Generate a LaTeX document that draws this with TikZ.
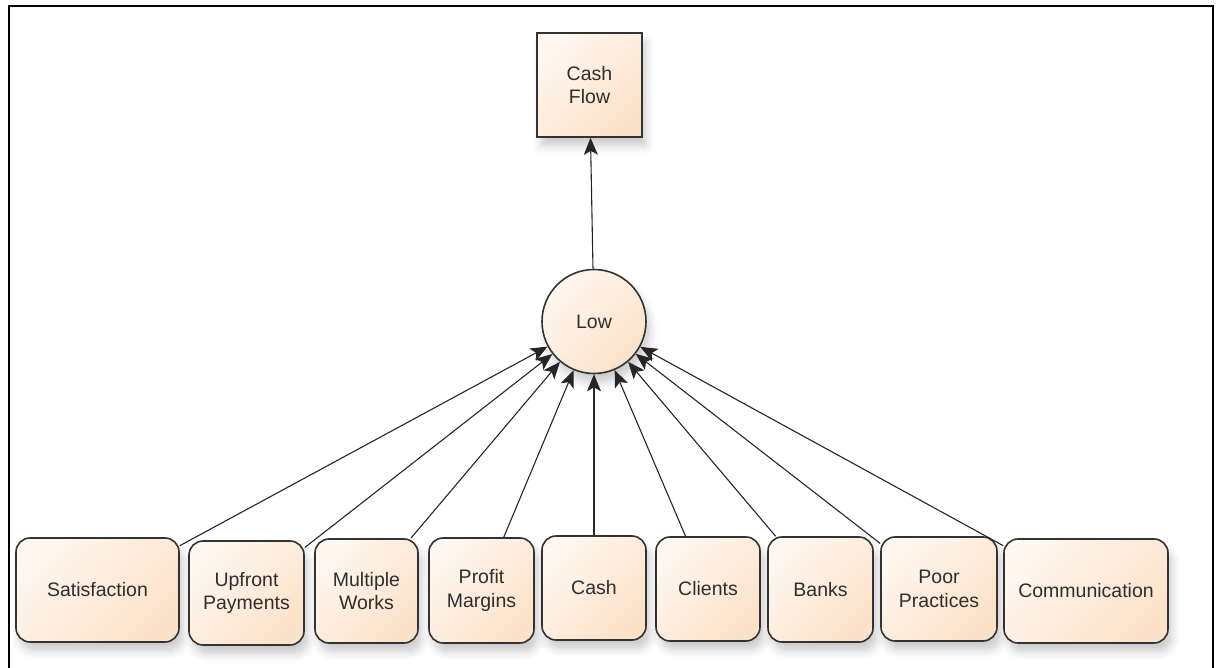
\documentclass[tikz,border=0pt]{standalone}
\usepackage{fontspec}
\setmainfont{Liberation Sans}
\usetikzlibrary{arrows.meta,shadows.blur}

\definecolor{fillA}{HTML}{FFF7F0}
\definecolor{fillB}{HTML}{FCE2C9}
\definecolor{edge}{HTML}{333333}
\definecolor{ink}{HTML}{2E2E2E}

\tikzset{
  base/.style={draw=edge, line width=1.6pt, top color=fillA, bottom color=fillB,
    shading angle=45, text=ink, align=center, inner sep=0pt,
    font=\fontsize{19.5}{23.5}\selectfont,
    blur shadow={shadow xshift=4pt, shadow yshift=-9pt, shadow blur radius=8pt,
      shadow opacity=20}},
  factor/.style={base, rectangle, rounded corners=14pt},
  goal/.style={base, rectangle},
  hub/.style={base, circle, minimum size=104pt},
  conn/.style={draw=black!85, line width=1.1pt,
    -{Stealth[length=17pt,width=14pt,inset=4pt]}},
}

\begin{document}
\begin{tikzpicture}[x=1pt, y=-1pt]
  \useasboundingbox (0,0) rectangle (1216,668);
  % open frame around the drawing
  \draw[line width=2.2pt, line cap=rect] (9,668) -- (9,6) -- (1213,6) -- (1213,668);

  \node[goal, minimum width=105pt, minimum height=104pt] (cf) at (589.5,85) {Cash\\Flow};
  \node[hub] (low) at (594,321.5) {Low};

  \node[factor, minimum width=163pt, minimum height=104pt] (sat) at (97.5,590) {Satisfaction};
  \node[factor, minimum width=115pt, minimum height=104pt] (upf) at (246.5,593) {Upfront\\Payments};
  \node[factor, minimum width=103pt, minimum height=104pt] (mul) at (366.5,591) {Multiple\\Works};
  \node[factor, minimum width=105pt, minimum height=105pt] (pro) at (481.5,590.5) {Profit\\Margins};
  \node[factor, minimum width=104pt, minimum height=104pt] (cash) at (594,588) {Cash};
  \node[factor, minimum width=104pt, minimum height=104pt] (cli) at (708,589) {Clients};
  \node[factor, minimum width=105pt, minimum height=105pt] (ban) at (820.5,589.5) {Banks};
  \node[factor, minimum width=116pt, minimum height=104pt] (poo) at (939,589) {Poor\\Practices};
  \node[factor, minimum width=164pt, minimum height=104pt] (com) at (1086,591) {Communication};

  \draw[conn] (low) -- (cf);
  \foreach \n in {sat,upf,mul,pro,cash,cli,ban,poo,com}
    \draw[conn] (\n) -- (low);
\end{tikzpicture}
\end{document}
